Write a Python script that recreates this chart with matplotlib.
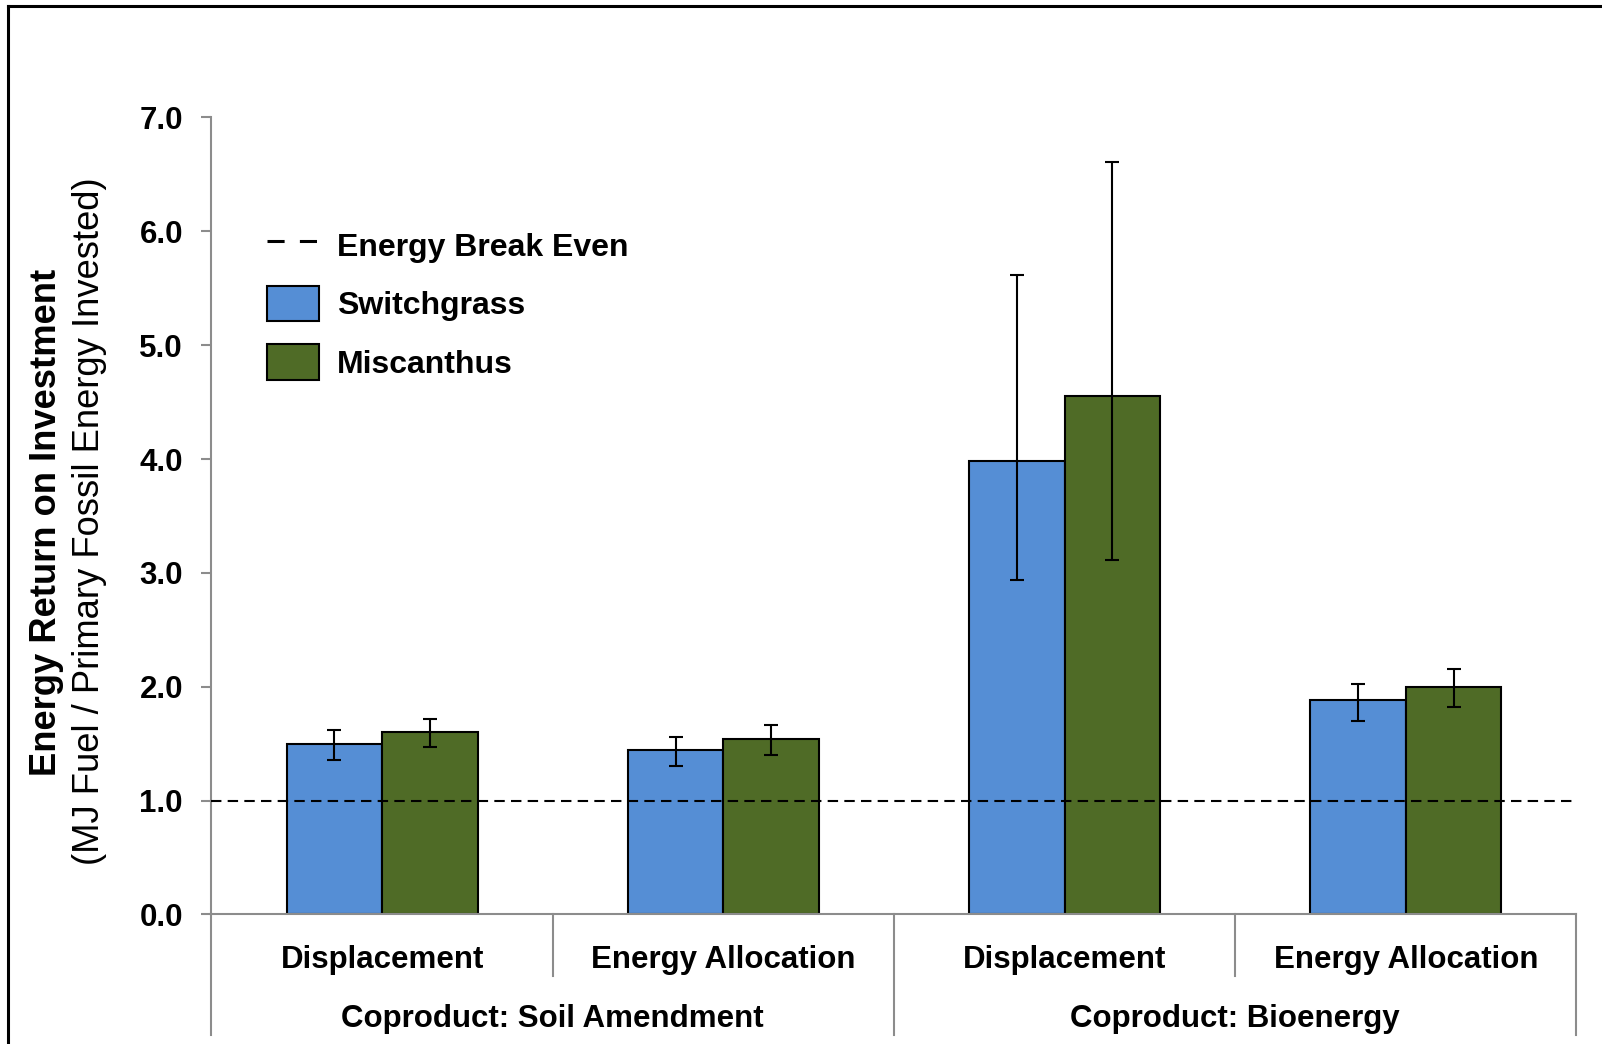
import matplotlib
matplotlib.use('Agg')
import matplotlib.pyplot as plt
import matplotlib.transforms as mtransforms
from matplotlib.lines import Line2D
from matplotlib.patches import Patch
import numpy as np

plt.rcParams['font.family'] = ['Liberation Sans', 'DejaVu Sans']
font_size = 22.5
label_size = 26.2

# data
categories = ['Displacement', 'Energy Allocation', 'Displacement', 'Energy Allocation']
groups = ['Coproduct: Soil Amendment', 'Coproduct: Bioenergy']
switchgrass = [1.50, 1.44, 3.98, 1.88]
switchgrass_lo = [0.14, 0.14, 1.04, 0.18]
switchgrass_hi = [0.12, 0.12, 1.64, 0.14]
miscanthus = [1.60, 1.54, 4.55, 2.00]
miscanthus_lo = [0.13, 0.14, 1.44, 0.18]
miscanthus_hi = [0.12, 0.12, 2.06, 0.16]
break_even = 1.0
yticks = [0, 1, 2, 3, 4, 5, 6, 7]

blue = '#558ED5'
green = '#4F6B26'
axis_gray = '#8C8C8C'

fig = plt.figure(figsize=(16.02, 10.44), dpi=100)
ax = fig.add_axes([0.132, 0.1241, 0.852, 0.7634])

index = np.arange(len(categories))
bar_width = 0.28

ax.bar(index - bar_width / 2, switchgrass, bar_width, color=blue,
       edgecolor='black', linewidth=1.5, zorder=2)
ax.bar(index + bar_width / 2, miscanthus, bar_width, color=green,
       edgecolor='black', linewidth=1.5, zorder=2)
ax.errorbar(index - bar_width / 2, switchgrass, yerr=[switchgrass_lo, switchgrass_hi],
            fmt='none', ecolor='black', elinewidth=1.5, capsize=4.8, capthick=1.5, zorder=4)
ax.errorbar(index + bar_width / 2, miscanthus, yerr=[miscanthus_lo, miscanthus_hi],
            fmt='none', ecolor='black', elinewidth=1.5, capsize=4.8, capthick=1.5, zorder=4)

ax.axhline(break_even, color='black', linewidth=1.5, linestyle=(0, (5, 3)), zorder=3)

ax.set_xlim(-0.5, len(categories) - 0.5)
ax.set_ylim(0, 7)
ax.set_yticks(yticks)
ax.set_yticklabels(['{:.1f}'.format(v) for v in yticks], fontsize=font_size, fontweight='bold')
ax.set_xticks([])
ax.tick_params(axis='y', direction='out', length=7.5, width=1.5, color=axis_gray, pad=13)

for side in ['top', 'right']:
    ax.spines[side].set_visible(False)
for side in ['left', 'bottom']:
    ax.spines[side].set_color(axis_gray)
    ax.spines[side].set_linewidth(1.5)

# two level category axis
trans = mtransforms.blended_transform_factory(ax.transData, fig.transFigure)
for i, name in enumerate(categories):
    ax.text(i, 0.0805, name, transform=trans, ha='center', va='center',
            fontsize=font_size, fontweight='bold')
for g, name in enumerate(groups):
    ax.text(2 * g + 0.5, 0.0240, name, transform=trans, ha='center', va='center',
            fontsize=font_size, fontweight='bold')
y_axis = 0.1241
for k in range(len(categories) + 1):
    x = k - 0.5
    y_end = 0.0086 if k % 2 == 0 else 0.0651
    ax.add_line(Line2D([x, x], [y_axis, y_end], transform=trans, color=axis_gray,
                       linewidth=1.5, clip_on=False))

# y label, two lines
fig.text(0.0290, 0.4995, 'Energy Return on Investment', rotation=90, ha='center', va='center',
         fontsize=label_size, fontweight='bold')
fig.text(0.0560, 0.501, '(MJ Fuel / Primary Fossil Energy Invested)', rotation=90,
         ha='center', va='center', fontsize=label_size)

handles = [Line2D([], [], color='black', linewidth=2.2, linestyle=(0, (5.6, 5.0))),
           Patch(facecolor=blue, edgecolor='black', linewidth=1.5),
           Patch(facecolor=green, edgecolor='black', linewidth=1.5)]
labels = ['Energy Break Even', 'Switchgrass', 'Miscanthus']
leg = ax.legend(handles, labels, loc='upper left', bbox_to_anchor=(267 / 1602, 1 - 227 / 1044),
                bbox_transform=fig.transFigure, frameon=False, borderpad=0, borderaxespad=0,
                handlelength=1.63, handleheight=1.35, handletextpad=0.55, labelspacing=0.71,
                prop={'size': 23, 'weight': 'bold'})

# figure border (only top and left visible in the original)
fig.add_artist(Line2D([0.0047, 1.0], [0.9945, 0.9945], color='black', linewidth=2.2))
fig.add_artist(Line2D([0.0047, 0.0047], [0.0, 0.9945], color='black', linewidth=2.2))

fig.savefig('out.png', dpi=100)
